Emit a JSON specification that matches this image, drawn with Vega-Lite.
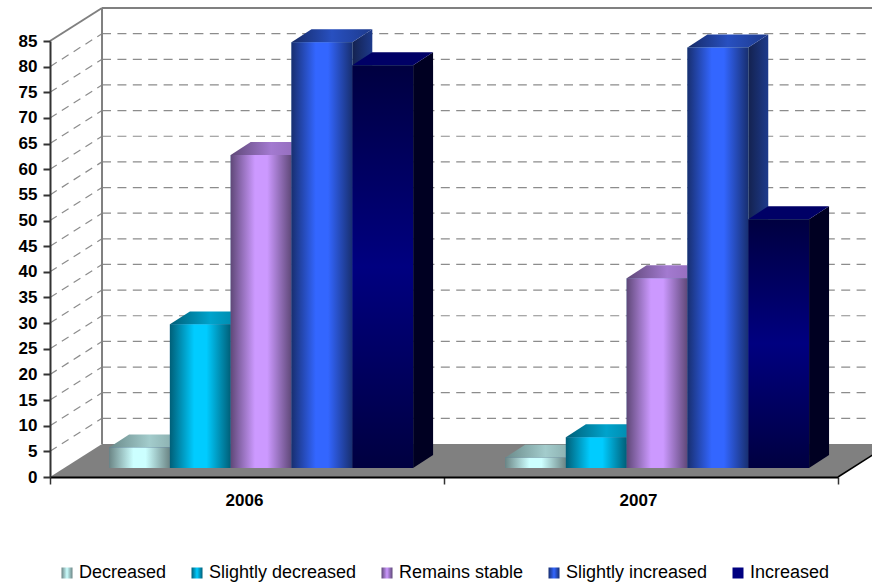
{
  "$schema": "https://vega.github.io/schema/vega-lite/v6.json",
  "width": 788,
  "height": 436,
  "autosize": "none",
  "padding": {"left": 50, "top": 41, "right": 34, "bottom": 105},
  "background": "white",
  "config": {"view": {"stroke": null}, "font": "Liberation Sans"},
  "datasets": {
    "shares": [
      {"year": 2006, "slot": 0, "category": "Decreased", "value": 4},
      {"year": 2006, "slot": 1, "category": "Slightly decreased", "value": 28},
      {"year": 2006, "slot": 2, "category": "Remains stable", "value": 61},
      {"year": 2006, "slot": 3, "category": "Slightly increased", "value": 83},
      {"year": 2006, "slot": 4, "category": "Increased", "value": 78.5},
      {"year": 2007, "slot": 0, "category": "Decreased", "value": 2},
      {"year": 2007, "slot": 1, "category": "Slightly decreased", "value": 6},
      {"year": 2007, "slot": 2, "category": "Remains stable", "value": 37},
      {"year": 2007, "slot": 3, "category": "Slightly increased", "value": 82},
      {"year": 2007, "slot": 4, "category": "Increased", "value": 48.5}
    ],
    "levels": [
      {"level": 5}, {"level": 10}, {"level": 15}, {"level": 20}, {"level": 25}, {"level": 30},
      {"level": 35}, {"level": 40}, {"level": 45}, {"level": 50}, {"level": 55}, {"level": 60},
      {"level": 65}, {"level": 70}, {"level": 75}, {"level": 80}
    ],
    "floor": [
      {"left": 2005.5, "right": 2007.5, "level": 0},
      {"left": 2005.632, "right": 2007.632, "level": 6.434}
    ],
    "frame": [
      {"x1": 2005.5, "y1": 85, "x2": 2005.632, "y2": 91.434},
      {"x1": 2005.632, "y1": 6.434, "x2": 2005.632, "y2": 91.434},
      {"x1": 2005.632, "y1": 91.434, "x2": 2007.632, "y2": 91.434}
    ],
    "floorEdge": [
      {"x1": 2007.5, "y1": 0, "x2": 2007.632, "y2": 6.434}
    ]
  },
  "layer": [
    {
      "data": {"name": "floor"},
      "mark": {"type": "area", "orient": "horizontal", "fill": "#808080", "clip": false},
      "encoding": {
        "y": {"field": "level", "type": "quantitative", "scale": {"domain": [0, 85], "nice": false, "zero": false},
          "axis": {"values": [0,5,10,15,20,25,30,35,40,45,50,55,60,65,70,75,80,85], "tickCount": 18, "title": null, "grid": false,
            "domainColor": "#333333", "domainWidth": 2, "tickColor": "#333333", "tickWidth": 2, "tickSize": 7,
            "labelFont": "Liberation Sans", "labelFontWeight": "bold", "labelFontSize": 17, "labelColor": "#000000",
            "labelPadding": 6, "labelOverlap": false, "labelFlush": false, "zindex": 1}},
        "x": {"field": "left", "type": "quantitative", "scale": {"domain": [2005.5, 2007.5], "nice": false, "zero": false},
          "axis": {"values": [2005.5, 2006, 2006.5, 2007, 2007.5], "title": null, "grid": false,
            "labelExpr": "datum.value % 1 == 0 ? format(datum.value, 'd') : ''",
            "tickOpacity": {"condition": {"test": "datum.value % 1 == 0", "value": 0}, "value": 1},
            "domainColor": "#000000", "domainWidth": 2, "tickColor": "#333333", "tickWidth": 1.5, "tickSize": 7,
            "labelFont": "Liberation Sans", "labelFontWeight": "bold", "labelFontSize": 17, "labelColor": "#000000",
            "labelPadding": 8, "labelOffset": -3, "labelFlush": false, "labelOverlap": false, "zindex": 1}},
        "x2": {"field": "right"}
      }
    },
    {
      "data": {"name": "levels"},
      "transform": [
        {"calculate": "datum.level + 6.434", "as": "backLevel"},
        {"calculate": "2005.632", "as": "wallLeft"},
        {"calculate": "2007.632", "as": "wallRight"}
      ],
      "mark": {"type": "rule", "stroke": "#8c8c8c", "strokeWidth": 1.2, "strokeDash": [9, 6.4], "clip": false},
      "encoding": {
        "x": {"field": "wallLeft", "type": "quantitative"},
        "x2": {"field": "wallRight"},
        "y": {"field": "backLevel", "type": "quantitative"}
      }
    },
    {
      "data": {"name": "levels"},
      "transform": [
        {"calculate": "datum.level + 6.434", "as": "backLevel"},
        {"calculate": "2005.5", "as": "sideFront"},
        {"calculate": "2005.632", "as": "sideBack"}
      ],
      "mark": {"type": "rule", "stroke": "#8c8c8c", "strokeWidth": 1.2, "strokeDash": [8, 6], "clip": false},
      "encoding": {
        "x": {"field": "sideFront", "type": "quantitative"},
        "x2": {"field": "sideBack"},
        "y": {"field": "level", "type": "quantitative"},
        "y2": {"field": "backLevel"}
      }
    },
    {
      "data": {"name": "frame"},
      "mark": {"type": "rule", "stroke": "#808080", "strokeWidth": 2, "clip": false},
      "encoding": {
        "x": {"field": "x1", "type": "quantitative"},
        "x2": {"field": "x2"},
        "y": {"field": "y1", "type": "quantitative"},
        "y2": {"field": "y2"}
      }
    },
    {
      "data": {"name": "floorEdge"},
      "mark": {"type": "rule", "stroke": "#000000", "strokeWidth": 1.5, "clip": false},
      "encoding": {
        "x": {"field": "x1", "type": "quantitative"},
        "x2": {"field": "x2"},
        "y": {"field": "y1", "type": "quantitative"},
        "y2": {"field": "y2"}
      }
    },
    {
      "data": {"name": "shares"},
      "transform": [
        {"calculate": "[0, 1]", "as": "k"},
        {"flatten": ["k"]},
        {"calculate": "2005.65 + (datum.year - 2006) * 1.005 + (datum.slot + 1) * 0.1543 + datum.k * 0.0508", "as": "px"},
        {"calculate": "1.755 + datum.value + datum.k * 2.534", "as": "topY"},
        {"calculate": "1.755 + datum.k * 2.534", "as": "baseY"}
      ],
      "mark": {"type": "area", "orient": "vertical", "clip": false},
      "encoding": {
        "x": {"field": "px", "type": "quantitative"},
        "y": {"field": "topY", "type": "quantitative"},
        "y2": {"field": "baseY"},
        "detail": [{"field": "year"}, {"field": "category"}],
        "fill": {
          "condition": [
            {"test": "datum.category == 'Decreased'", "value": "#5f7f7f"},
            {"test": "datum.category == 'Slightly decreased'", "value": "#005f78"},
            {"test": "datum.category == 'Remains stable'", "value": "#5f4878"},
            {"test": "datum.category == 'Slightly increased'", "value": {"gradient": "linear", "x1": 0, "x2": 1, "y1": 0, "y2": 0, "stops": [{"offset": 0, "color": "#14224f"}, {"offset": 1, "color": "#1d3a8c"}]}}
          ],
          "value": "#000022"
        }
      }
    },
    {
      "data": {"name": "shares"},
      "transform": [
        {"calculate": "[0, 1]", "as": "k"},
        {"flatten": ["k"]},
        {"calculate": "2005.65 + (datum.year - 2006) * 1.005 + datum.slot * 0.1543 + datum.k * 0.0508", "as": "lx"},
        {"calculate": "2005.65 + (datum.year - 2006) * 1.005 + (datum.slot + 1) * 0.1543 + datum.k * 0.0508", "as": "rx"},
        {"calculate": "1.755 + datum.value + datum.k * 2.534", "as": "topY"}
      ],
      "mark": {"type": "area", "orient": "horizontal", "clip": false},
      "encoding": {
        "y": {"field": "topY", "type": "quantitative"},
        "x": {"field": "lx", "type": "quantitative"},
        "x2": {"field": "rx"},
        "detail": [{"field": "year"}, {"field": "category"}],
        "fill": {
          "condition": [
            {"test": "datum.category == 'Decreased'", "value": {"gradient": "linear", "x1": 0, "x2": 1, "y1": 0, "y2": 0, "stops": [{"offset": 0, "color": "#6a8a8a"}, {"offset": 0.5, "color": "#a3cccc"}, {"offset": 1, "color": "#7a9a9a"}]}},
            {"test": "datum.category == 'Slightly decreased'", "value": {"gradient": "linear", "x1": 0, "x2": 1, "y1": 0, "y2": 0, "stops": [{"offset": 0, "color": "#005f78"}, {"offset": 0.5, "color": "#00a3cc"}, {"offset": 1, "color": "#007a99"}]}},
            {"test": "datum.category == 'Remains stable'", "value": {"gradient": "linear", "x1": 0, "x2": 1, "y1": 0, "y2": 0, "stops": [{"offset": 0, "color": "#5f4878"}, {"offset": 0.5, "color": "#a37ad0"}, {"offset": 1, "color": "#8a65b0"}]}},
            {"test": "datum.category == 'Slightly increased'", "value": {"gradient": "linear", "x1": 0, "x2": 1, "y1": 0, "y2": 0, "stops": [{"offset": 0, "color": "#162a66"}, {"offset": 0.5, "color": "#2850c0"}, {"offset": 1, "color": "#1d3a8c"}]}}
          ],
          "value": "#000066"
        }
      }
    },
    {
      "data": {"name": "shares"},
      "transform": [
        {"calculate": "2005.65 + (datum.year - 2006) * 1.005 + datum.slot * 0.1543", "as": "lx"},
        {"calculate": "2005.65 + (datum.year - 2006) * 1.005 + (datum.slot + 1) * 0.1543", "as": "rx"},
        {"calculate": "1.755 + datum.value", "as": "topY"},
        {"calculate": "1.755", "as": "baseY"}
      ],
      "mark": {"type": "bar", "clip": false, "strokeWidth": 0},
      "encoding": {
        "x": {"field": "lx", "type": "quantitative"},
        "x2": {"field": "rx"},
        "y": {"field": "topY", "type": "quantitative"},
        "y2": {"field": "baseY"},
        "stroke": {"field": "category", "type": "nominal",
          "scale": {
            "domain": ["Decreased", "Slightly decreased", "Remains stable", "Slightly increased", "Increased"],
            "range": ["#ccffff", "#00ccff", "#cc99ff", "#3366ff", "#000080"]
          },
          "legend": {
            "title": null, "orient": "none", "legendX": 8, "legendY": 523, "direction": "horizontal", "columns": 5,
            "symbolType": "square", "symbolSize": 121, "symbolStrokeWidth": 0, "padding": 0,
            "labelFont": "Liberation Sans", "labelFontSize": 18, "labelColor": "#000000", "labelOffset": 3,
            "columnPadding": 21, "labelLimit": 300,
            "encoding": {"symbols": {"fill": {
              "condition": [
                {"test": "datum.value == 'Decreased'", "value": {"gradient": "linear", "x1": 0, "x2": 1, "y1": 0, "y2": 0, "stops": [{"offset": 0, "color": "#6b8585"}, {"offset": 0.5, "color": "#ccffff"}, {"offset": 1, "color": "#6b8585"}]}},
                {"test": "datum.value == 'Slightly decreased'", "value": {"gradient": "linear", "x1": 0, "x2": 1, "y1": 0, "y2": 0, "stops": [{"offset": 0, "color": "#005f78"}, {"offset": 0.5, "color": "#00ccff"}, {"offset": 1, "color": "#005f78"}]}},
                {"test": "datum.value == 'Remains stable'", "value": {"gradient": "linear", "x1": 0, "x2": 1, "y1": 0, "y2": 0, "stops": [{"offset": 0, "color": "#5f4878"}, {"offset": 0.5, "color": "#cc99ff"}, {"offset": 1, "color": "#5f4878"}]}},
                {"test": "datum.value == 'Slightly increased'", "value": {"gradient": "linear", "x1": 0, "x2": 1, "y1": 0, "y2": 0, "stops": [{"offset": 0, "color": "#182f70"}, {"offset": 0.5, "color": "#3366ff"}, {"offset": 1, "color": "#182f70"}]}}
              ],
              "value": "#000080"
            }}}
          }
        }
      }
    },
    {
      "data": {"name": "shares"},
      "transform": [
        {"calculate": "2005.65 + (datum.year - 2006) * 1.005 + datum.slot * 0.1543", "as": "lx"},
        {"calculate": "2005.65 + (datum.year - 2006) * 1.005 + (datum.slot + 1) * 0.1543", "as": "rx"},
        {"calculate": "1.755 + datum.value", "as": "topY"},
        {"calculate": "1.755", "as": "baseY"}
      ],
      "mark": {"type": "bar", "clip": false},
      "encoding": {
        "x": {"field": "lx", "type": "quantitative"},
        "x2": {"field": "rx"},
        "y": {"field": "topY", "type": "quantitative"},
        "y2": {"field": "baseY"},
        "fill": {
          "condition": [
            {"test": "datum.category == 'Decreased'", "value": {"gradient": "linear", "x1": 0, "x2": 1, "y1": 0, "y2": 0, "stops": [{"offset": 0, "color": "#6b8585"}, {"offset": 0.4, "color": "#ccffff"}, {"offset": 0.6, "color": "#ccffff"}, {"offset": 1, "color": "#6b8585"}]}},
            {"test": "datum.category == 'Slightly decreased'", "value": {"gradient": "linear", "x1": 0, "x2": 1, "y1": 0, "y2": 0, "stops": [{"offset": 0, "color": "#005f78"}, {"offset": 0.4, "color": "#00ccff"}, {"offset": 0.6, "color": "#00ccff"}, {"offset": 1, "color": "#005f78"}]}},
            {"test": "datum.category == 'Remains stable'", "value": {"gradient": "linear", "x1": 0, "x2": 1, "y1": 0, "y2": 0, "stops": [{"offset": 0, "color": "#5f4878"}, {"offset": 0.4, "color": "#cc99ff"}, {"offset": 0.6, "color": "#cc99ff"}, {"offset": 1, "color": "#5f4878"}]}},
            {"test": "datum.category == 'Slightly increased'", "value": {"gradient": "linear", "x1": 0, "x2": 1, "y1": 0, "y2": 0, "stops": [{"offset": 0, "color": "#182f70"}, {"offset": 0.4, "color": "#3366ff"}, {"offset": 0.6, "color": "#3366ff"}, {"offset": 1, "color": "#182f70"}]}}
          ],
          "value": {"gradient": "linear", "x1": 0, "x2": 0, "y1": 0, "y2": 1, "stops": [{"offset": 0, "color": "#000040"}, {"offset": 0.5, "color": "#000080"}, {"offset": 1, "color": "#000040"}]}
        }
      }
    }
  ]
}
